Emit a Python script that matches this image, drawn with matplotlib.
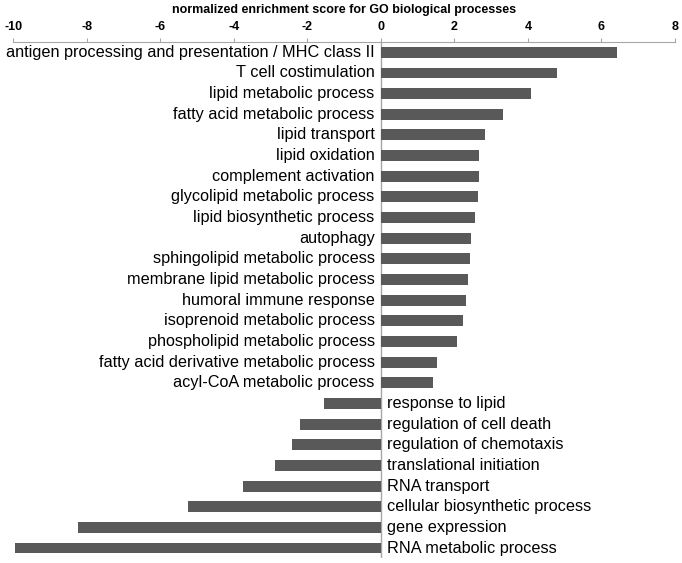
import matplotlib
matplotlib.use("Agg")
import matplotlib.pyplot as plt

# GO terms, top to bottom
terms = [
    "antigen processing and presentation / MHC class II",
    "T cell costimulation",
    "lipid metabolic process",
    "fatty acid metabolic process",
    "lipid transport",
    "lipid oxidation",
    "complement activation",
    "glycolipid metabolic process",
    "lipid biosynthetic process",
    "autophagy",
    "sphingolipid metabolic process",
    "membrane lipid metabolic process",
    "humoral immune response",
    "isoprenoid metabolic process",
    "phospholipid metabolic process",
    "fatty acid derivative metabolic process",
    "acyl-CoA metabolic process",
    "response to lipid",
    "regulation of cell death",
    "regulation of chemotaxis",
    "translational initiation",
    "RNA transport",
    "cellular biosynthetic process",
    "gene expression",
    "RNA metabolic process",
]
scores = [6.41, 4.80, 4.08, 3.32, 2.84, 2.66, 2.66, 2.63, 2.55,
          2.46, 2.43, 2.38, 2.31, 2.23, 2.07, 1.53, 1.41,
          -1.54, -2.21, -2.41, -2.88, -3.74, -5.25, -8.24, -9.95]
ticks = [-10, -8, -6, -4, -2, 0, 2, 4, 6, 8]

plt.rcParams['font.family'] = ['Liberation Sans', 'DejaVu Sans']
fig = plt.figure(figsize=(6.82, 5.63), dpi=100)
ax = fig.add_axes([0.0195, 0.0083, 0.9702, 0.9171])

ypos = list(range(len(terms)))
ax.barh(ypos, scores, height=0.53, color='#595959', zorder=2)
ax.axvline(0, color='#a6a6a6', lw=1, zorder=1)

for y, t, v in zip(ypos, terms, scores):
    if v >= 0:
        ax.text(-0.17, y, t, ha='right', va='center', fontsize=11.7, color='black')
    else:
        ax.text(0.17, y, t, ha='left', va='center', fontsize=11.7, color='black')

ax.set_xlim(-10, 8)
ax.set_ylim(len(terms) - 0.5, -0.5)
ax.xaxis.tick_top()
ax.set_xticks(ticks)
ax.set_xticklabels([str(t) for t in ticks], fontsize=9, fontweight='bold')
ax.tick_params(axis='x', direction='out', length=3, color='#a6a6a6', pad=3.5)
ax.set_yticks([])
for s in ['bottom', 'left', 'right']:
    ax.spines[s].set_visible(False)
ax.spines['top'].set_color('#a6a6a6')
ax.xaxis.set_label_position('top')
ax.set_xlabel("normalized enrichment score for GO biological processes",
              fontsize=9, fontweight='bold', labelpad=6)

fig.savefig("out.png", dpi=100)
